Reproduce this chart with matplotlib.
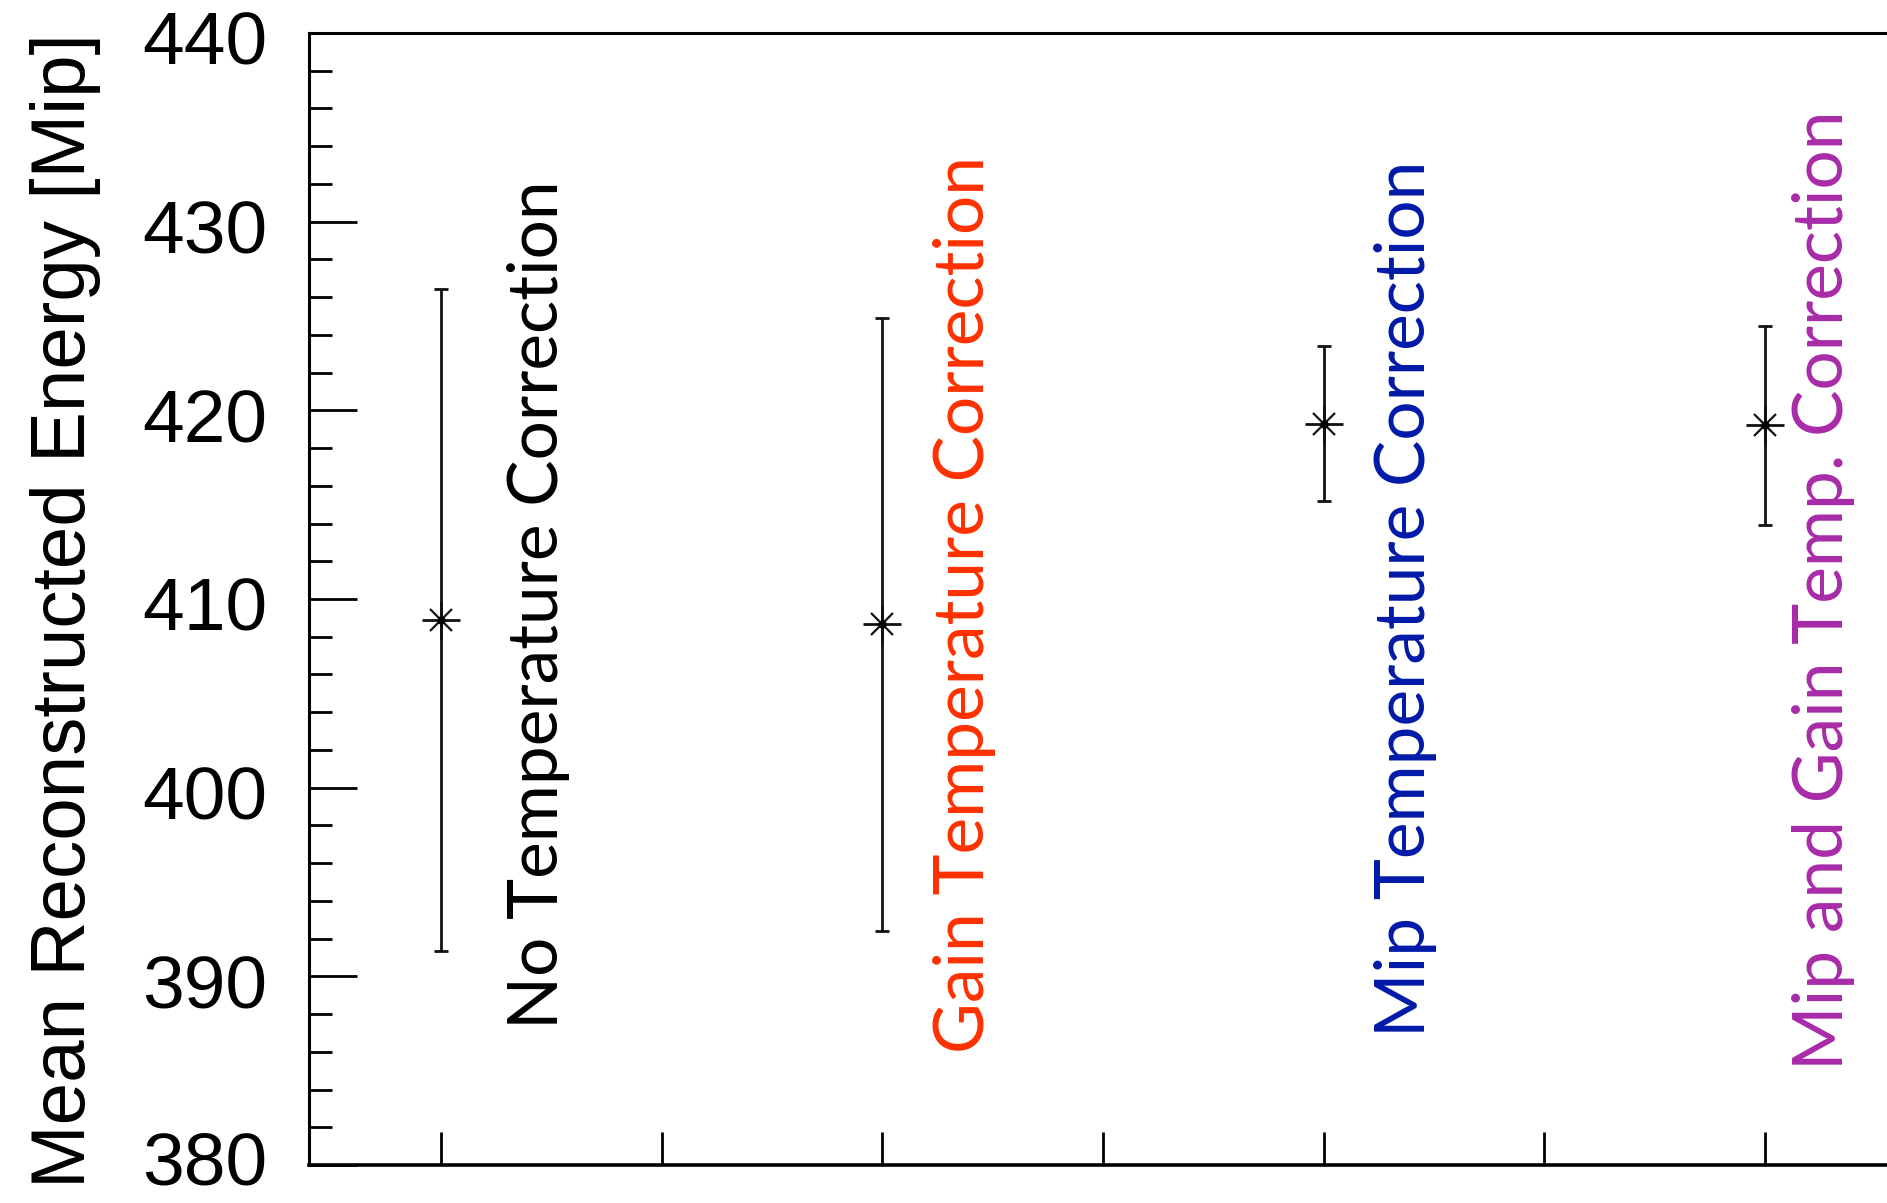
import matplotlib
matplotlib.use("Agg")
import matplotlib.pyplot as plt
import matplotlib.transforms as mtransforms
from matplotlib.ticker import MultipleLocator, NullFormatter

# Mean reconstructed energy for each temperature-correction scheme
categories = [
    "No Temperature Correction",
    "Gain Temperature Correction",
    "Mip Temperature Correction",
    "Mip and Gain Temp. Correction",
]
mean_energy = [408.9, 408.65, 419.3, 419.2]
energy_error = [17.55, 16.25, 4.1, 5.28]
label_colors = ["#000000", "#ff3000", "#001aa8", "#a82aa8"]
y_ticks = [380, 390, 400, 410, 420, 430, 440]

DPI = 100
fig = plt.figure(figsize=(18.87, 12.03), dpi=DPI)
# axes extends slightly past the right figure edge
ax = fig.add_axes([309 / 1887, 38 / 1203, 1588 / 1887, 1132 / 1203])

xpos = list(range(1, len(categories) + 1))

ax.errorbar(xpos, mean_energy, yerr=energy_error, fmt="none", ecolor="#111111",
            elinewidth=2.0, capsize=5, capthick=2.0, zorder=3)
ax.plot(xpos, mean_energy, ls="none", marker="+", ms=27, mew=2.0, color="#111111", zorder=4)
ax.plot(xpos, mean_energy, ls="none", marker="x", ms=16, mew=1.6, color="#111111", zorder=4)
ax.plot(xpos, mean_energy, ls="none", marker="o", ms=5, color="#000000", zorder=5)

# vertical category labels next to each point
label_dx = [0.265, 0.231, 0.229, 0.177]
label_y = [387.2, 385.94, 386.79, 385.04]
for x, name, col, dx, ly in zip(xpos, categories, label_colors, label_dx, label_y):
    ax.text(x + dx, ly, name, rotation=90, rotation_mode="anchor",
            ha="left", va="baseline", color=col, fontsize=50,
            family=["Lato", "DejaVu Sans"], clip_on=False)

ax.set_xlim(0.7, 4.3)
ax.set_ylim(380, 440)

ax.xaxis.set_major_locator(MultipleLocator(0.5))
ax.xaxis.set_major_formatter(NullFormatter())
ax.set_yticks(y_ticks)
ax.yaxis.set_minor_locator(MultipleLocator(2))

ax.tick_params(axis="x", which="major", direction="in", length=23.8, width=2.0,
               top=False, bottom=True)
ax.tick_params(axis="y", which="major", direction="in", length=34.6, width=2.0,
               right=False, pad=30, labelsize=54)
ax.tick_params(axis="y", which="minor", direction="in", length=16.6, width=2.0,
               right=False)
ylabels = ax.get_yticklabels()
for i, lab in enumerate(ylabels):
    lab.set_family(["Liberation Sans", "DejaVu Sans"])
    # lowest label is nudged up so it stays inside the figure
    shift = 7 if i == 0 else -5
    lab.set_transform(lab.get_transform() +
                      mtransforms.ScaledTranslation(0, shift / DPI, fig.dpi_scale_trans))

ax.spines["left"].set_linewidth(2.2)
ax.spines["top"].set_linewidth(2.2)
ax.spines["bottom"].set_linewidth(2.6)
ax.spines["right"].set_linewidth(2.2)

ax.set_ylabel("Mean Reconstructed Energy [Mip]", fontsize=55,
              family=["Liberation Sans", "DejaVu Sans"],
              rotation=90, rotation_mode="anchor", ha="right", va="baseline")
ax.yaxis.set_label_coords((85 - 309) / 1588, 1.0)

fig.savefig("out.png", dpi=DPI)
